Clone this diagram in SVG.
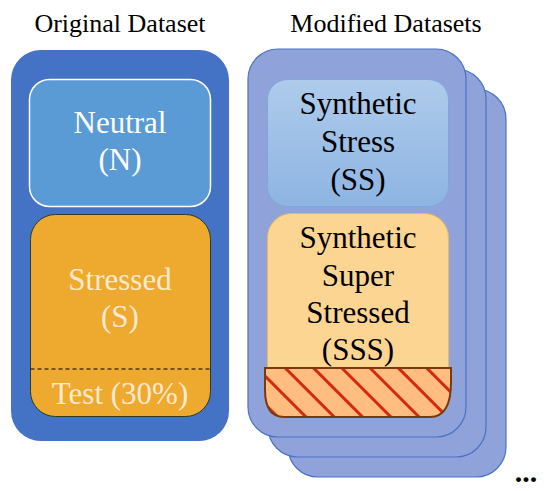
<svg xmlns="http://www.w3.org/2000/svg" width="550" height="491" viewBox="0 0 550 491">
<defs>
<style>
text{font-family:"Liberation Serif",serif;text-anchor:middle}
.title{font-size:26px;fill:#000}
.lbl{font-size:31px}
.card{fill:#8FA2DA;stroke:#4A72C4;stroke-width:1.2}
</style>
<linearGradient id="ssg" x1="0" y1="0" x2="0" y2="1">
<stop offset="0" stop-color="#AECBEB"/>
<stop offset="1" stop-color="#8DB4E2"/>
</linearGradient>
<pattern id="hatch" patternUnits="userSpaceOnUse" width="20" height="20" patternTransform="rotate(-45)">
<rect width="20" height="20" fill="#FFBE80"/>
<line x1="0" y1="0" x2="0" y2="20" stroke="#D42A10" stroke-width="6"/>
</pattern>
</defs>
<g id="title-original"><text class="title" x="120" y="32">Original Dataset</text></g>
<g id="title-modified"><text class="title" x="386" y="32">Modified Datasets</text></g>
<g id="original">
<rect x="11" y="50" width="218" height="391" rx="30" fill="#4472C4"/>
</g>
<g id="neutral">
<rect x="29.5" y="79.5" width="181" height="127" rx="20" fill="#5B9BD5" stroke="#FFFFFF" stroke-width="1.5"/>
<text class="lbl" x="120" y="133" fill="#FFFFFF">Neutral</text>
<text class="lbl" x="120" y="170" fill="#FFFFFF">(N)</text>
</g>
<g id="stressed">
<rect x="30.5" y="214.5" width="180" height="202" rx="25" fill="#EEAA2E" stroke="#2F3A20" stroke-width="1"/>
<line x1="30.5" y1="369" x2="210.5" y2="369" stroke="#000" stroke-width="1" stroke-dasharray="4,3"/>
<text class="lbl" x="120" y="290" fill="#FDE9D2">Stressed</text>
<text class="lbl" x="120" y="327" fill="#FDE9D2">(S)</text>
<text class="lbl" x="120" y="404" fill="#FDE9D2">Test (30%)</text>
</g>
<g id="card3"><rect class="card" x="288" y="89" width="218" height="388" rx="30"/></g>
<g id="card2"><rect class="card" x="268" y="69" width="218" height="388" rx="30"/></g>
<g id="card1"><rect class="card" x="248" y="49" width="218" height="388" rx="30"/></g>
<g id="synthetic-stress">
<rect x="267.5" y="79.5" width="181" height="127" rx="20" fill="url(#ssg)" stroke="#7FA8DA" stroke-width="1"/>
<text class="lbl" x="358" y="114" fill="#000">Synthetic</text>
<text class="lbl" x="358" y="152" fill="#000">Stress</text>
<text class="lbl" x="358" y="190" fill="#000">(SS)</text>
</g>
<g id="synthetic-super-stressed">
<rect x="267.5" y="213.5" width="181" height="204" rx="24" fill="#FDD592" stroke="#E8B860" stroke-width="1"/>
<text class="lbl" x="358" y="248" fill="#000">Synthetic</text>
<text class="lbl" x="358" y="286" fill="#000">Super</text>
<text class="lbl" x="358" y="323" fill="#000">Stressed</text>
<text class="lbl" x="358" y="360" fill="#000">(SSS)</text>
<path d="M265,368 H451 V382 Q451,417 430,417 H284 Q265,417 265,390 Z" fill="url(#hatch)" stroke="#7A3A10" stroke-width="2"/>
</g>
<g id="ellipsis"><text x="526" y="482" style="font-size:30px;font-weight:bold" fill="#000">...</text></g>
</svg>
